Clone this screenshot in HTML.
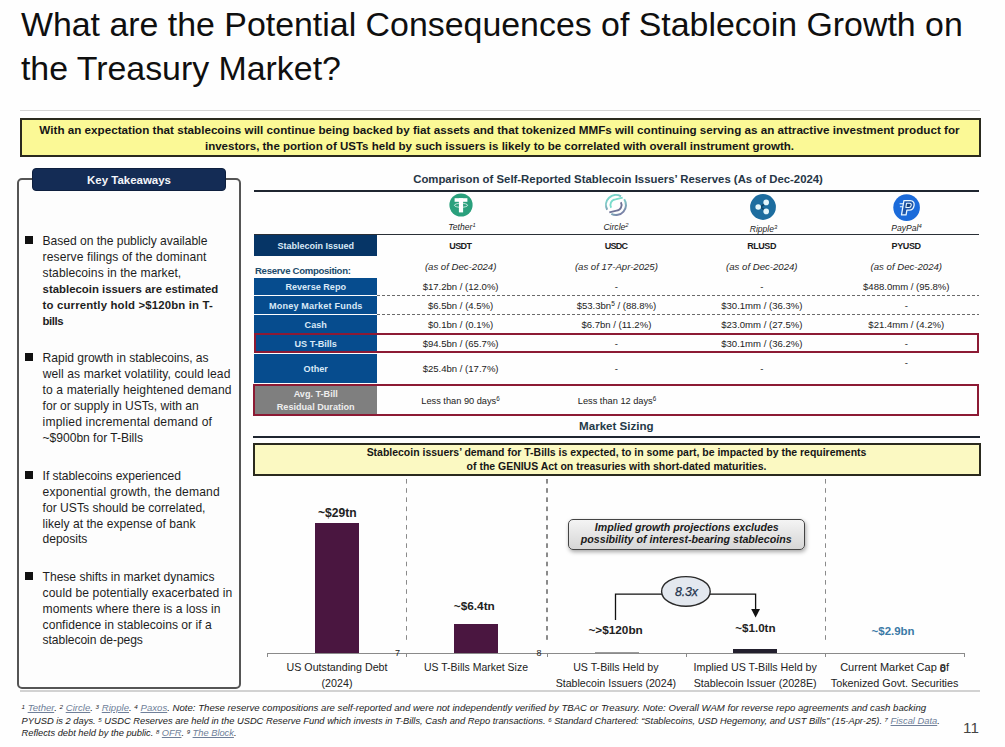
<!DOCTYPE html>
<html><head><meta charset="utf-8"><title>Stablecoin Growth and the Treasury Market</title>
<style>
html,body{margin:0;padding:0;}
body{width:1005px;height:747px;position:relative;overflow:hidden;background:#fefefe;font-family:"Liberation Sans", sans-serif;}
.t{position:absolute;white-space:pre;}
.a{position:absolute;}
</style></head><body>
<div class="t" style="left:20.90px;top:3px;font-size:33.9px;line-height:43px;font-weight:400;font-style:normal;color:#0f0f0f;letter-spacing:-0.002px;">What are the Potential Consequences of Stablecoin Growth on</div>
<div class="t" style="left:20.90px;top:47px;font-size:33.9px;line-height:43px;font-weight:400;font-style:normal;color:#0f0f0f;letter-spacing:-0.011px;">the Treasury Market?</div>
<div class="a" style="left:20.00px;top:109.50px;width:960.00px;height:1.50px;background:#d4d4d4;"></div>
<div class="a" style="left:19.50px;top:117.80px;width:961.50px;height:39.40px;background:#fbf996;border:2px solid #2a2a1e;box-sizing:border-box;"></div>
<div class="t" style="left:-100.50px;width:1200px;text-align:center;top:122px;font-size:11.67px;line-height:16px;font-weight:700;font-style:normal;color:#161616;">With an expectation that stablecoins will continue being backed by fiat assets and that tokenized MMFs will continuing serving as an attractive investment product for</div>
<div class="t" style="left:-100.50px;width:1200px;text-align:center;top:138px;font-size:11.53px;line-height:16px;font-weight:700;font-style:normal;color:#161616;">investors, the portion of USTs held by such issuers is likely to be correlated with overall instrument growth.</div>
<div class="a" style="left:17.00px;top:177.80px;width:223.50px;height:510.80px;border:2px solid #555;border-radius:5px;box-sizing:border-box;background:#fdfdfd;"></div>
<div class="a" style="left:31.50px;top:168.00px;width:194.50px;height:23.00px;background:#142c55;border:1px solid #0e1f3e;box-sizing:border-box;border-radius:4px;"></div>
<div class="t" style="left:-471.00px;width:1200px;text-align:center;top:172px;font-size:11.48px;line-height:16px;font-weight:700;font-style:normal;color:#f4f6fa;">Key Takeaways</div>
<div class="a" style="left:24.80px;top:236.00px;width:8.20px;height:8.10px;background:#111;"></div>
<div class="t" style="left:42.60px;top:233px;font-size:12.1px;line-height:17px;font-weight:400;font-style:normal;color:#1e1e1e;letter-spacing:-0.040px;">Based on the publicly available</div>
<div class="t" style="left:42.60px;top:249px;font-size:12.1px;line-height:17px;font-weight:400;font-style:normal;color:#1e1e1e;letter-spacing:0.083px;">reserve filings of the dominant</div>
<div class="t" style="left:42.60px;top:265px;font-size:12.1px;line-height:17px;font-weight:400;font-style:normal;color:#1e1e1e;letter-spacing:0.060px;">stablecoins in the market,</div>
<div class="t" style="left:42.60px;top:281px;font-size:11.4px;line-height:16px;font-weight:700;font-style:normal;color:#1e1e1e;letter-spacing:-0.010px;">stablecoin issuers are estimated</div>
<div class="t" style="left:42.60px;top:297px;font-size:11.4px;line-height:16px;font-weight:700;font-style:normal;color:#1e1e1e;letter-spacing:0.157px;">to currently hold &gt;$120bn in T-</div>
<div class="t" style="left:42.60px;top:313px;font-size:11.4px;line-height:16px;font-weight:700;font-style:normal;color:#1e1e1e;letter-spacing:-0.450px;">bills</div>
<div class="a" style="left:24.80px;top:353.10px;width:8.20px;height:8.10px;background:#111;"></div>
<div class="t" style="left:42.60px;top:350px;font-size:12.1px;line-height:17px;font-weight:400;font-style:normal;color:#1e1e1e;letter-spacing:-0.047px;">Rapid growth in stablecoins, as</div>
<div class="t" style="left:42.70px;top:366px;font-size:12.1px;line-height:17px;font-weight:400;font-style:normal;color:#1e1e1e;letter-spacing:0.086px;">well as market volatility, could lead</div>
<div class="t" style="left:42.60px;top:382px;font-size:12.1px;line-height:17px;font-weight:400;font-style:normal;color:#1e1e1e;letter-spacing:0.103px;">to a materially heightened demand</div>
<div class="t" style="left:42.60px;top:398px;font-size:12.1px;line-height:17px;font-weight:400;font-style:normal;color:#1e1e1e;letter-spacing:-0.017px;">for or supply in USTs, with an</div>
<div class="t" style="left:42.60px;top:414px;font-size:12.1px;line-height:17px;font-weight:400;font-style:normal;color:#1e1e1e;letter-spacing:0.164px;">implied incremental demand of</div>
<div class="t" style="left:42.60px;top:430px;font-size:12.1px;line-height:17px;font-weight:400;font-style:normal;color:#1e1e1e;letter-spacing:-0.033px;">~$900bn for T-Bills</div>
<div class="a" style="left:24.80px;top:470.60px;width:8.20px;height:8.10px;background:#111;"></div>
<div class="t" style="left:42.60px;top:468px;font-size:12.1px;line-height:17px;font-weight:400;font-style:normal;color:#1e1e1e;letter-spacing:-0.060px;">If stablecoins experienced</div>
<div class="t" style="left:42.60px;top:484px;font-size:12.1px;line-height:17px;font-weight:400;font-style:normal;color:#1e1e1e;letter-spacing:0.172px;">exponential growth, the demand</div>
<div class="t" style="left:42.60px;top:500px;font-size:12.1px;line-height:17px;font-weight:400;font-style:normal;color:#1e1e1e;letter-spacing:0.007px;">for USTs should be correlated,</div>
<div class="t" style="left:42.60px;top:516px;font-size:12.1px;line-height:17px;font-weight:400;font-style:normal;color:#1e1e1e;letter-spacing:0.014px;">likely at the expense of bank</div>
<div class="t" style="left:42.60px;top:531px;font-size:12.1px;line-height:17px;font-weight:400;font-style:normal;color:#1e1e1e;letter-spacing:-0.057px;">deposits</div>
<div class="a" style="left:24.80px;top:571.60px;width:8.20px;height:8.10px;background:#111;"></div>
<div class="t" style="left:42.60px;top:569px;font-size:12.1px;line-height:17px;font-weight:400;font-style:normal;color:#1e1e1e;letter-spacing:-0.030px;">These shifts in market dynamics</div>
<div class="t" style="left:42.60px;top:585px;font-size:12.1px;line-height:17px;font-weight:400;font-style:normal;color:#1e1e1e;letter-spacing:0.103px;">could be potentially exacerbated in</div>
<div class="t" style="left:42.60px;top:601px;font-size:12.1px;line-height:17px;font-weight:400;font-style:normal;color:#1e1e1e;letter-spacing:0.035px;">moments where there is a loss in</div>
<div class="t" style="left:42.60px;top:617px;font-size:12.1px;line-height:17px;font-weight:400;font-style:normal;color:#1e1e1e;letter-spacing:0.009px;">confidence in stablecoins or if a</div>
<div class="t" style="left:42.60px;top:632px;font-size:12.1px;line-height:17px;font-weight:400;font-style:normal;color:#1e1e1e;letter-spacing:-0.071px;">stablecoin de-pegs</div>
<div class="t" style="left:413.20px;top:171px;font-size:11.37px;line-height:16px;font-weight:700;font-style:normal;color:#263646;">Comparison of Self-Reported Stablecoin Issuers’ Reserves (As of Dec-2024)</div>
<div class="a" style="left:254.00px;top:189.50px;width:725.00px;height:2.00px;background:#1f2630;"></div>
<div class="a" style="left:254.00px;top:233.80px;width:725.00px;height:1.50px;background:#2a2f36;"></div>
<svg class="a" style="left:449px;top:192.5px" width="24" height="24" viewBox="0 0 24 24">
<circle cx="12" cy="12" r="11.6" fill="#2aa07c"/>
<rect x="5.6" y="5.2" width="12.8" height="3.6" fill="#fff"/>
<rect x="9.9" y="5.2" width="4.2" height="14.2" fill="#fff"/>
<ellipse cx="12" cy="12.3" rx="6.6" ry="2" fill="none" stroke="#fff" stroke-width="0.9" opacity="0.8"/>
</svg>
<svg class="a" style="left:603.5px;top:192.9px" width="24" height="24" viewBox="0 0 24 24">
<defs><linearGradient id="cg" x1="0.2" y1="0" x2="0.8" y2="1"><stop offset="0" stop-color="#74e0cf"/><stop offset="0.5" stop-color="#7fb9c0"/><stop offset="1" stop-color="#77709e"/></linearGradient></defs>
<path d="M20.19 6.26 A10.0 10.0 0 0 1 7.31 20.83" fill="none" stroke="url(#cg)" stroke-width="2"/>
<path d="M3.17 16.69 A10.0 10.0 0 0 1 17.00 3.34" fill="none" stroke="url(#cg)" stroke-width="2"/>
<path d="M7.15 14.80 A5.6 5.6 0 0 1 11.51 6.42 L18.69 4.57" fill="none" stroke="#78dccb" stroke-width="1.9"/>
<path d="M16.85 9.20 A5.6 5.6 0 0 1 12.49 17.58 L5.31 19.43" fill="none" stroke="#6f7396" stroke-width="1.9"/>
</svg>
<svg class="a" style="left:750.2px;top:193.7px" width="26" height="26" viewBox="0 0 26 26">
<circle cx="13" cy="13" r="12.9" fill="#1d6d9f"/>
<path d="M8.4 13 Q12.5 12.6 16 8.8 M8.4 13 Q12.5 13.4 16 17.2" fill="none" stroke="#0f4467" stroke-width="1.6"/>
<circle cx="8.2" cy="13" r="2.8" fill="#e4f6fb"/>
<circle cx="16.2" cy="8.4" r="2.8" fill="#e4f6fb"/>
<circle cx="16.2" cy="17.4" r="2.8" fill="#e4f6fb"/>
</svg>
<svg class="a" style="left:892.8px;top:193.8px" width="27" height="27" viewBox="0 0 27 27">
<circle cx="13.6" cy="13.6" r="13.3" fill="#1b6bda"/>
<path d="M10.9 6.7 H17.2 C20.4 6.7 21.5 9.2 21.1 11.4 C20.7 13.9 18.9 16.1 16.2 16.1 H13.9 L13.1 20.9 H8.5 Z" fill="#1d55a8" stroke="#e9f7ff" stroke-width="1.3" stroke-linejoin="round"/>
<path d="M13.5 9.3 H16.5 C17.9 9.3 18.4 10.3 18.2 11.3 C18 12.5 17.2 13.5 16 13.5 H12.9 Z" fill="#173f78" stroke="#e9f7ff" stroke-width="1.1" stroke-linejoin="round"/>
<path d="M6.6 9.7 H10.4 M6.9 12.7 H9.9" stroke="#e9f7ff" stroke-width="1.1"/>
</svg>
<div class="t" style="left:-138.00px;width:1200px;text-align:center;top:221px;font-size:8.6px;line-height:12px;font-weight:400;font-style:italic;color:#262626;">Tether<span style="font-size:0.68em;position:relative;top:-0.5em;">1</span></div>
<div class="t" style="left:16.00px;width:1200px;text-align:center;top:221px;font-size:8.6px;line-height:12px;font-weight:400;font-style:italic;color:#262626;">Circle<span style="font-size:0.68em;position:relative;top:-0.5em;">2</span></div>
<div class="t" style="left:163.50px;width:1200px;text-align:center;top:223px;font-size:8.6px;line-height:12px;font-weight:400;font-style:italic;color:#262626;">Ripple<span style="font-size:0.68em;position:relative;top:-0.5em;">3</span></div>
<div class="t" style="left:306.50px;width:1200px;text-align:center;top:222px;font-size:8.6px;line-height:12px;font-weight:400;font-style:italic;color:#262626;">PayPal<span style="font-size:0.68em;position:relative;top:-0.5em;">4</span></div>
<div class="a" style="left:254.30px;top:234.80px;width:122.70px;height:21.30px;background:#063566;"></div>
<div class="t" style="left:-284.30px;width:1200px;text-align:center;top:240px;font-size:9.0px;line-height:13px;font-weight:700;font-style:normal;color:#d9e9f7;">Stablecoin Issued</div>
<div class="t" style="left:-139.68px;width:1200px;text-align:center;top:240px;font-size:9.0px;line-height:13px;font-weight:700;font-style:normal;color:#1b1b1b;letter-spacing:-0.567px;">USDT</div>
<div class="t" style="left:16.02px;width:1200px;text-align:center;top:240px;font-size:9.0px;line-height:13px;font-weight:700;font-style:normal;color:#1b1b1b;letter-spacing:-0.767px;">USDC</div>
<div class="t" style="left:161.59px;width:1200px;text-align:center;top:240px;font-size:9.0px;line-height:13px;font-weight:700;font-style:normal;color:#1b1b1b;letter-spacing:-0.425px;">RLUSD</div>
<div class="t" style="left:306.10px;width:1200px;text-align:center;top:240px;font-size:9.0px;line-height:13px;font-weight:700;font-style:normal;color:#1b1b1b;letter-spacing:-0.400px;">PYUSD</div>
<div class="t" style="left:255.00px;top:264px;font-size:9.6px;line-height:14px;font-weight:700;font-style:normal;color:#214b6b;letter-spacing:-0.311px;">Reserve Composition:</div>
<div class="t" style="left:-139.40px;width:1200px;text-align:center;top:260px;font-size:9.61px;line-height:14px;font-weight:400;font-style:italic;color:#262626;">(as of Dec-2024)</div>
<div class="t" style="left:16.40px;width:1200px;text-align:center;top:260px;font-size:9.61px;line-height:14px;font-weight:400;font-style:italic;color:#262626;">(as of 17-Apr-2025)</div>
<div class="t" style="left:161.80px;width:1200px;text-align:center;top:260px;font-size:9.61px;line-height:14px;font-weight:400;font-style:italic;color:#262626;">(as of Dec-2024)</div>
<div class="t" style="left:306.30px;width:1200px;text-align:center;top:260px;font-size:9.61px;line-height:14px;font-weight:400;font-style:italic;color:#262626;">(as of Dec-2024)</div>
<div class="a" style="left:254.30px;top:277.50px;width:122.70px;height:17.50px;background:#064c8e;"></div>
<div class="t" style="left:-284.30px;width:1200px;text-align:center;top:281px;font-size:9.1px;line-height:13px;font-weight:700;font-style:normal;color:#d9e9f7;">Reverse Repo</div>
<div class="a" style="left:254.30px;top:296.20px;width:122.70px;height:17.50px;background:#064c8e;"></div>
<div class="t" style="left:-284.21px;width:1200px;text-align:center;top:300px;font-size:9.1px;line-height:13px;font-weight:700;font-style:normal;color:#d9e9f7;letter-spacing:0.176px;">Money Market Funds</div>
<div class="a" style="left:254.30px;top:315.00px;width:122.70px;height:17.70px;background:#064c8e;"></div>
<div class="t" style="left:-284.30px;width:1200px;text-align:center;top:319px;font-size:9.1px;line-height:13px;font-weight:700;font-style:normal;color:#d9e9f7;">Cash</div>
<div class="a" style="left:254.30px;top:334.40px;width:122.70px;height:18.00px;background:#064c8e;"></div>
<div class="t" style="left:-284.30px;width:1200px;text-align:center;top:338px;font-size:9.1px;line-height:13px;font-weight:700;font-style:normal;color:#d9e9f7;">US T-Bills</div>
<div class="a" style="left:254.30px;top:354.00px;width:122.70px;height:28.80px;background:#064c8e;"></div>
<div class="t" style="left:-284.30px;width:1200px;text-align:center;top:363px;font-size:9.1px;line-height:13px;font-weight:700;font-style:normal;color:#d9e9f7;">Other</div>
<div class="a" style="left:254.30px;top:385.60px;width:122.70px;height:28.20px;background:#7f7f7f;"></div>
<div class="t" style="left:-284.30px;width:1200px;text-align:center;top:388px;font-size:9.1px;line-height:13px;font-weight:700;font-style:normal;color:#eeeeee;">Avg. T-Bill</div>
<div class="t" style="left:-284.30px;width:1200px;text-align:center;top:401px;font-size:9.1px;line-height:13px;font-weight:700;font-style:normal;color:#eeeeee;">Residual Duration</div>
<div class="t" style="left:-139.40px;width:1200px;text-align:center;top:280px;font-size:9.56px;line-height:13px;font-weight:400;font-style:normal;color:#222;">$17.2bn / (12.0%)</div>
<div class="t" style="left:16.40px;width:1200px;text-align:center;top:280px;font-size:9.56px;line-height:13px;font-weight:400;font-style:normal;color:#222;">-</div>
<div class="t" style="left:161.80px;width:1200px;text-align:center;top:280px;font-size:9.56px;line-height:13px;font-weight:400;font-style:normal;color:#222;">-</div>
<div class="t" style="left:306.30px;width:1200px;text-align:center;top:280px;font-size:9.56px;line-height:13px;font-weight:400;font-style:normal;color:#222;">$488.0mm / (95.8%)</div>
<div class="t" style="left:-139.40px;width:1200px;text-align:center;top:299px;font-size:9.56px;line-height:13px;font-weight:400;font-style:normal;color:#222;">$6.5bn / (4.5%)</div>
<div class="t" style="left:16.40px;width:1200px;text-align:center;top:299px;font-size:9.56px;line-height:13px;font-weight:400;font-style:normal;color:#222;">$53.3bn<span style="font-size:0.68em;position:relative;top:-0.5em;">5</span> / (88.8%)</div>
<div class="t" style="left:161.80px;width:1200px;text-align:center;top:299px;font-size:9.56px;line-height:13px;font-weight:400;font-style:normal;color:#222;">$30.1mm / (36.3%)</div>
<div class="t" style="left:306.30px;width:1200px;text-align:center;top:299px;font-size:9.56px;line-height:13px;font-weight:400;font-style:normal;color:#222;">-</div>
<div class="t" style="left:-139.40px;width:1200px;text-align:center;top:318px;font-size:9.56px;line-height:13px;font-weight:400;font-style:normal;color:#222;">$0.1bn / (0.1%)</div>
<div class="t" style="left:16.40px;width:1200px;text-align:center;top:318px;font-size:9.56px;line-height:13px;font-weight:400;font-style:normal;color:#222;">$6.7bn / (11.2%)</div>
<div class="t" style="left:161.80px;width:1200px;text-align:center;top:318px;font-size:9.56px;line-height:13px;font-weight:400;font-style:normal;color:#222;">$23.0mm / (27.5%)</div>
<div class="t" style="left:306.30px;width:1200px;text-align:center;top:318px;font-size:9.56px;line-height:13px;font-weight:400;font-style:normal;color:#222;">$21.4mm / (4.2%)</div>
<div class="t" style="left:-139.40px;width:1200px;text-align:center;top:337px;font-size:9.56px;line-height:13px;font-weight:400;font-style:normal;color:#222;">$94.5bn / (65.7%)</div>
<div class="t" style="left:16.40px;width:1200px;text-align:center;top:337px;font-size:9.56px;line-height:13px;font-weight:400;font-style:normal;color:#222;">-</div>
<div class="t" style="left:161.80px;width:1200px;text-align:center;top:337px;font-size:9.56px;line-height:13px;font-weight:400;font-style:normal;color:#222;">$30.1mm / (36.2%)</div>
<div class="t" style="left:306.30px;width:1200px;text-align:center;top:337px;font-size:9.56px;line-height:13px;font-weight:400;font-style:normal;color:#222;">-</div>
<div class="t" style="left:-139.40px;width:1200px;text-align:center;top:362px;font-size:9.56px;line-height:13px;font-weight:400;font-style:normal;color:#222;">$25.4bn / (17.7%)</div>
<div class="t" style="left:16.40px;width:1200px;text-align:center;top:362px;font-size:9.56px;line-height:13px;font-weight:400;font-style:normal;color:#222;">-</div>
<div class="t" style="left:161.80px;width:1200px;text-align:center;top:362px;font-size:9.56px;line-height:13px;font-weight:400;font-style:normal;color:#222;">-</div>
<div class="t" style="left:306.30px;width:1200px;text-align:center;top:362px;font-size:9.56px;line-height:13px;font-weight:400;font-style:normal;color:#222;"></div>
<div class="t" style="left:306.30px;width:1200px;text-align:center;top:356px;font-size:9.56px;line-height:13px;font-weight:400;font-style:normal;color:#222;">-</div>
<div class="t" style="left:-139.50px;width:1200px;text-align:center;top:395px;font-size:9.24px;line-height:13px;font-weight:400;font-style:normal;color:#222;">Less than 90 days<span style="font-size:0.68em;position:relative;top:-0.5em;">6</span></div>
<div class="t" style="left:17.00px;width:1200px;text-align:center;top:395px;font-size:9.24px;line-height:13px;font-weight:400;font-style:normal;color:#222;">Less than 12 days<span style="font-size:0.68em;position:relative;top:-0.5em;">6</span></div>
<div class="a" style="left:377.00px;top:294.60px;width:602.00px;height:1.00px;background-image:linear-gradient(90deg,#6a6a6a 0 3px,transparent 3px 5px);background-size:5px 1px;"></div>
<div class="a" style="left:377.00px;top:313.70px;width:602.00px;height:1.00px;background-image:linear-gradient(90deg,#6a6a6a 0 3px,transparent 3px 5px);background-size:5px 1px;"></div>
<div class="a" style="left:253.50px;top:332.60px;width:725.70px;height:20.60px;border:2px solid #8c1a34;box-sizing:border-box;"></div>
<div class="a" style="left:252.50px;top:383.80px;width:726.70px;height:32.00px;border:2px solid #8c1a34;box-sizing:border-box;"></div>
<div class="t" style="left:579.10px;top:418px;font-size:11.57px;line-height:16px;font-weight:700;font-style:normal;color:#243a48;">Market Sizing</div>
<div class="a" style="left:253.00px;top:435.60px;width:727.00px;height:2.00px;background:#1f2630;"></div>
<div class="a" style="left:253.00px;top:442.60px;width:727.50px;height:33.40px;background:#fbf9c2;border:2px solid #2a2a1e;box-sizing:border-box;"></div>
<div class="t" style="left:16.50px;width:1200px;text-align:center;top:445px;font-size:10.48px;line-height:15px;font-weight:700;font-style:normal;color:#161616;">Stablecoin issuers’ demand for T-Bills is expected, to in some part, be impacted by the requirements</div>
<div class="t" style="left:16.50px;width:1200px;text-align:center;top:459px;font-size:10.48px;line-height:15px;font-weight:700;font-style:normal;color:#161616;">of the GENIUS Act on treasuries with short-dated maturities.</div>
<div class="a" style="left:406.10px;top:479.00px;width:1.40px;height:162.00px;background-image:linear-gradient(180deg,#8a8a8a 0 5px,transparent 5px 9.2px);background-size:1.4px 9.2px;"></div>
<div class="a" style="left:546.30px;top:479.00px;width:1.40px;height:162.00px;background-image:linear-gradient(180deg,#8a8a8a 0 5px,transparent 5px 9.2px);background-size:1.4px 9.2px;"></div>
<div class="a" style="left:825.10px;top:479.00px;width:1.40px;height:162.00px;background-image:linear-gradient(180deg,#8a8a8a 0 5px,transparent 5px 9.2px);background-size:1.4px 9.2px;"></div>
<div class="a" style="left:267.50px;top:653.00px;width:697.50px;height:1.20px;background:#8a8a8a;"></div>
<div class="a" style="left:267.30px;top:653.00px;width:1.00px;height:4.00px;background:#8a8a8a;"></div>
<div class="a" style="left:406.30px;top:653.00px;width:1.00px;height:4.00px;background:#8a8a8a;"></div>
<div class="a" style="left:546.50px;top:653.00px;width:1.00px;height:4.00px;background:#8a8a8a;"></div>
<div class="a" style="left:685.50px;top:653.00px;width:1.00px;height:4.00px;background:#8a8a8a;"></div>
<div class="a" style="left:825.30px;top:653.00px;width:1.00px;height:4.00px;background:#8a8a8a;"></div>
<div class="a" style="left:964.00px;top:653.00px;width:1.00px;height:4.00px;background:#8a8a8a;"></div>
<div class="a" style="left:315.20px;top:522.80px;width:43.50px;height:130.40px;background:#4a1640;"></div>
<div class="a" style="left:454.10px;top:623.90px;width:43.60px;height:29.30px;background:#4a1640;"></div>
<div class="a" style="left:594.60px;top:652.20px;width:44.00px;height:1.20px;background:#9a9a9a;"></div>
<div class="a" style="left:733.00px;top:648.80px;width:44.00px;height:4.40px;background:#23202e;"></div>
<div class="t" style="left:-202.50px;width:1200px;text-align:center;top:647px;font-size:9px;line-height:13px;font-weight:400;font-style:normal;color:#222;">7</div>
<div class="t" style="left:-61.00px;width:1200px;text-align:center;top:647px;font-size:9px;line-height:13px;font-weight:400;font-style:normal;color:#222;">8</div>
<div class="t" style="left:-262.70px;width:1200px;text-align:center;top:505px;font-size:12.1px;line-height:17px;font-weight:700;font-style:normal;color:#222;">~$29tn</div>
<div class="t" style="left:-125.70px;width:1200px;text-align:center;top:598px;font-size:11.8px;line-height:16px;font-weight:700;font-style:normal;color:#222;">~$6.4tn</div>
<div class="t" style="left:15.60px;width:1200px;text-align:center;top:622px;font-size:11.79px;line-height:16px;font-weight:700;font-style:normal;color:#222;">~&gt;$120bn</div>
<div class="t" style="left:155.40px;width:1200px;text-align:center;top:620px;font-size:11.63px;line-height:16px;font-weight:700;font-style:normal;color:#222;">~$1.0tn</div>
<div class="t" style="left:293.10px;width:1200px;text-align:center;top:623px;font-size:11.46px;line-height:16px;font-weight:700;font-style:normal;color:#3b7aa6;">~$2.9bn</div>
<div class="a" style="left:568.00px;top:518.80px;width:237.00px;height:31.00px;background:linear-gradient(180deg,#f4f4f4,#d6d6d6);border:1.6px solid #444;border-radius:5px;box-sizing:border-box;box-shadow:1px 2px 4px rgba(0,0,0,0.35);"></div>
<div class="t" style="left:86.80px;width:1200px;text-align:center;top:520px;font-size:10.61px;line-height:15px;font-weight:700;font-style:italic;color:#1a1a1a;">Implied growth projections excludes</div>
<div class="t" style="left:86.20px;width:1200px;text-align:center;top:532px;font-size:10.67px;line-height:15px;font-weight:700;font-style:italic;color:#1a1a1a;">possibility of interest-bearing stablecoins</div>
<svg class="a" style="left:0;top:0" width="1005" height="747">
<path d="M615.5 620 V594.2 H662" fill="none" stroke="#111" stroke-width="1.3"/>
<path d="M710 594.2 H755.6 V610" fill="none" stroke="#111" stroke-width="1.3"/>
<path d="M751.2 609 L760 609 L755.6 617.5 Z" fill="#111"/>
<ellipse cx="685.9" cy="591.4" rx="24.3" ry="14.8" fill="#e3e8ef" stroke="#2a2a2a" stroke-width="1.4"/>
</svg>
<div class="t" style="left:86.42px;width:1200px;text-align:center;top:584px;font-size:12.4px;line-height:17px;font-weight:400;font-style:italic;color:#23344e;letter-spacing:-0.167px;-webkit-text-stroke:0.25px #23344e;">8.3x</div>
<div class="t" style="left:-263.00px;width:1200px;text-align:center;top:660px;font-size:10.7px;line-height:15px;font-weight:400;font-style:normal;color:#222;">US Outstanding Debt</div>
<div class="t" style="left:-263.00px;width:1200px;text-align:center;top:676px;font-size:10.7px;line-height:15px;font-weight:400;font-style:normal;color:#222;">(2024)</div>
<div class="t" style="left:-124.00px;width:1200px;text-align:center;top:660px;font-size:10.48px;line-height:15px;font-weight:400;font-style:normal;color:#222;">US T-Bills Market Size</div>
<div class="t" style="left:15.90px;width:1200px;text-align:center;top:660px;font-size:10.64px;line-height:15px;font-weight:400;font-style:normal;color:#222;">US T-Bills Held by</div>
<div class="t" style="left:15.90px;width:1200px;text-align:center;top:676px;font-size:10.64px;line-height:15px;font-weight:400;font-style:normal;color:#222;">Stablecoin Issuers (2024)</div>
<div class="t" style="left:155.20px;width:1200px;text-align:center;top:660px;font-size:10.7px;line-height:15px;font-weight:400;font-style:normal;color:#222;">Implied US T-Bills Held by</div>
<div class="t" style="left:155.20px;width:1200px;text-align:center;top:676px;font-size:10.7px;line-height:15px;font-weight:400;font-style:normal;color:#222;">Stablecoin Issuer (2028E)</div>
<div class="t" style="left:294.60px;width:1200px;text-align:center;top:660px;font-size:11.0px;line-height:15px;font-weight:400;font-style:normal;color:#222;">Current Market Cap of</div>
<div class="t" style="left:342.90px;width:1200px;text-align:center;top:661px;font-size:11.0px;line-height:15px;font-weight:400;font-style:normal;color:#222;">8</div>
<div class="t" style="left:294.60px;width:1200px;text-align:center;top:676px;font-size:10.79px;line-height:15px;font-weight:400;font-style:normal;color:#222;">Tokenized Govt. Securities</div>
<div class="a" style="left:20.00px;top:690.00px;width:960.00px;height:1.50px;background:#d2d2d2;"></div>
<div class="t" style="left:21.50px;top:701px;font-size:9.62px;line-height:14px;font-weight:400;font-style:italic;color:#222;"><span style="font-size:0.65em;position:relative;top:-0.4em;">1</span> <span style="color:#6f7f99;text-decoration:underline;">Tether</span>. <span style="font-size:0.65em;position:relative;top:-0.4em;">2</span> <span style="color:#6f7f99;text-decoration:underline;">Circle</span>. <span style="font-size:0.65em;position:relative;top:-0.4em;">3</span> <span style="color:#6f7f99;text-decoration:underline;">Ripple</span>. <span style="font-size:0.65em;position:relative;top:-0.4em;">4</span> <span style="color:#6f7f99;text-decoration:underline;">Paxos</span>. Note: These reserve compositions are self-reported and were not independently verified by TBAC or Treasury. Note: Overall WAM for reverse repo agreements and cash backing</div>
<div class="t" style="left:21.50px;top:715px;font-size:9.34px;line-height:13px;font-weight:400;font-style:italic;color:#222;">PYUSD is 2 days. <span style="font-size:0.65em;position:relative;top:-0.4em;">5</span> USDC Reserves are held in the USDC Reserve Fund which invests in T-Bills, Cash and Repo transactions. <span style="font-size:0.65em;position:relative;top:-0.4em;">6</span> Standard Chartered: “Stablecoins, USD Hegemony, and UST Bills” (15-Apr-25). <span style="font-size:0.65em;position:relative;top:-0.4em;">7</span> <span style="color:#6f7f99;text-decoration:underline;">Fiscal Data</span>.</div>
<div class="t" style="left:21.50px;top:727px;font-size:9.3px;line-height:13px;font-weight:400;font-style:italic;color:#222;">Reflects debt held by the public. <span style="font-size:0.65em;position:relative;top:-0.4em;">8</span> <span style="color:#6f7f99;text-decoration:underline;">OFR</span>. <span style="font-size:0.65em;position:relative;top:-0.4em;">9</span> <span style="color:#6f7f99;text-decoration:underline;">The Block</span>.</div>
<div class="t" style="left:371.00px;width:1200px;text-align:center;top:718px;font-size:15.2px;line-height:20px;font-weight:400;font-style:normal;color:#444;">11</div>
</body></html>
